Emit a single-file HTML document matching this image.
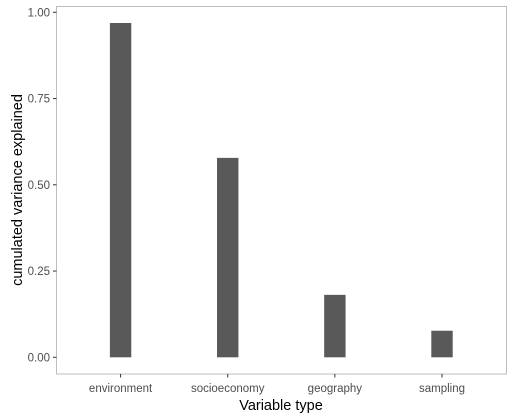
<!DOCTYPE html>
<html><head><meta charset="utf-8"><style>
body{margin:0;background:#fff;}
svg{display:block;font-family:"Liberation Sans",Arial,sans-serif;}
</style></head><body>
<svg id="chart" width="514" height="419">
<rect x="56.5" y="6.5" width="450" height="367.5" fill="#fff" stroke="#bdbdbd" stroke-width="1"/>
<g id="bars"></g><g id="yaxis"></g><g id="xaxis"></g>
<text x="281" y="410" text-anchor="middle" font-size="14.5" fill="#000">Variable type</text>
<text transform="translate(22,190) rotate(-90)" text-anchor="middle" font-size="14.5" fill="#000">cumulated variance explained</text>
</svg>
<script>
const categories=["environment","socioeconomy","geography","sampling"];
const values=[0.969,0.578,0.181,0.077];
const yTicks=[0,0.25,0.5,0.75,1];
const yTickLabels=["0.00","0.25","0.50","0.75","1.00"];
const NS="http://www.w3.org/2000/svg";
const y=v=>357.3-v*345;
const x=i=>56.3+(0.6+i)*107.14;
const bw=21.4;
const bars=document.getElementById('bars'),ya=document.getElementById('yaxis'),xa=document.getElementById('xaxis');
function mk(t,a){const e=document.createElementNS(NS,t);for(const k in a)e.setAttribute(k,a[k]);return e;}
values.forEach((v,i)=>{
 const r=mk('rect',{x:x(i)-bw/2,y:y(v),width:bw,height:y(0)-y(v),fill:'#595959'});
 
 
 bars.appendChild(r);
});
yTicks.forEach((t,i)=>{
 const l=mk('line',{x1:53,x2:56.5,y1:y(t),y2:y(t),stroke:'#333','stroke-width':1});
 
 
 ya.appendChild(l);
 const tx=mk('text',{x:50,y:y(t)+4,'text-anchor':'end','font-size':'11.5',fill:'#4d4d4d'});
 tx.textContent=yTickLabels[i];
 
 
 ya.appendChild(tx);
});
categories.forEach((c,i)=>{
 const l=mk('line',{x1:x(i),x2:x(i),y1:374,y2:377.5,stroke:'#333','stroke-width':1});
 
 
 xa.appendChild(l);
 const tx=mk('text',{x:x(i),y:392,'text-anchor':'middle','font-size':'11.5',fill:'#4d4d4d'});
 tx.textContent=c;
 
 
 xa.appendChild(tx);
});
</script>
</body></html>
